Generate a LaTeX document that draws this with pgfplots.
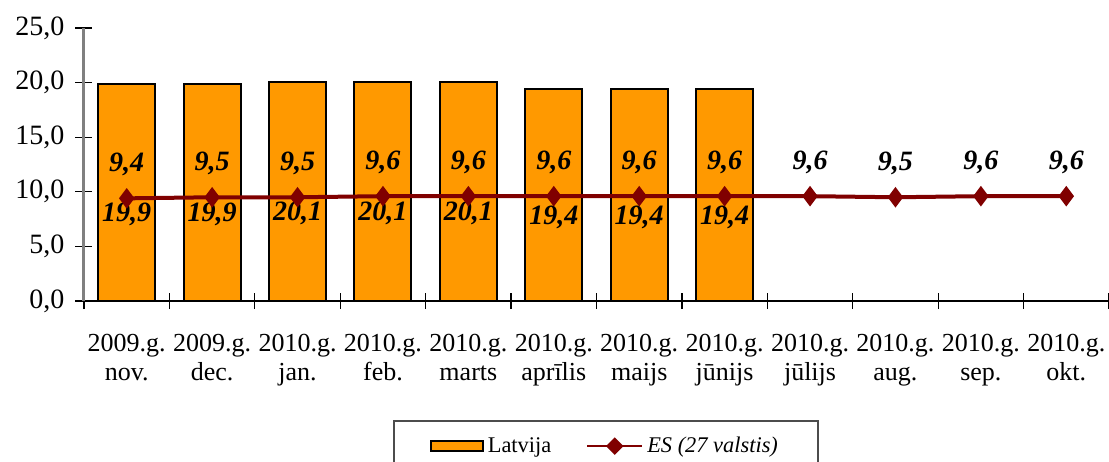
\documentclass[border=0pt]{standalone}
\usepackage{fontspec}
\setmainfont{Liberation Serif}
\usepackage{pgfplots}
\pgfplotsset{compat=1.18}
\definecolor{barorange}{RGB}{255,153,0}
\definecolor{linered}{RGB}{128,0,0}

\begin{document}
\begin{tikzpicture}
\begin{axis}[
  scale only axis, width=512.5pt, height=136.5pt,
  at={(0,0)}, anchor=south west,
  xmin=-0.5, xmax=11.5, ymin=0, ymax=25,
  clip=false,
  axis x line*=bottom, axis y line*=left,
  x axis line style={black, line width=0.6pt},
  y axis line style={gray, line width=1.5pt},
  ytick={0,5,...,25},
  xtick={0,...,11},
  xticklabels={{2009.g.\\nov.},{2009.g.\\dec.},{2010.g.\\jan.},{2010.g.\\feb.},
    {2010.g.\\marts},{2010.g.\\aprīlis},{2010.g.\\maijs},{2010.g.\\jūnijs},
    {2010.g.\\jūlijs},{2010.g.\\aug.},{2010.g.\\sep.},{2010.g.\\okt.}},
  minor xtick={-0.5,0.5,...,11.5},
  major x tick style={draw=none},
  tick align=center, major tick length=8.5pt, minor tick length=8pt,
  tick style={black, line width=0.6pt},
  yticklabel style={font=\fontsize{14}{16}\selectfont, xshift=-2pt},
  xticklabel style={font=\fontsize{13}{14.5}\selectfont, align=center, yshift=-9pt},
  /pgf/number format/use comma,
  /pgf/number format/fixed,
  /pgf/number format/fixed zerofill,
  /pgf/number format/precision=1,
  /pgf/number format/assume math mode=true,
  legend columns=2,
  legend style={at={(0.3015,-0.436)}, anchor=north west,
    draw=gray!60!black, line width=0.8pt,
    inner xsep=18pt, inner ysep=6pt,
    font=\fontsize{11.2}{13}\selectfont,
    /tikz/every even column/.append style={column sep=15.5pt}},
]
\addplot[ybar, bar width=28.5pt, fill=barorange, draw=black, line width=1pt,
  point meta=y, nodes near coords,
  visualization depends on={y \as \rawy},
  every node near coord/.append style={anchor=center, text=black,
    font=\fontsize{14}{16}\selectfont\bfseries\itshape,
    yshift={-2.73pt*\rawy-11pt}},
  legend image code/.code={\draw[fill=barorange, draw=black, line width=1pt]
    (0pt,-2.5pt) rectangle (26pt,2.5pt);}]
coordinates {(0,19.9) (1,19.9) (2,20.1) (3,20.1) (4,20.1) (5,19.4) (6,19.4) (7,19.4)};
\addlegendentry{Latvija}
\addplot[linered, line width=2pt, mark=diamond*, mark size=3.5pt,
  mark options={solid, fill=linered},
  point meta=y, nodes near coords,
  every node near coord/.append style={anchor=center, text=black, yshift=17pt,
    font=\fontsize{14}{16}\selectfont\bfseries\itshape},
  legend image code/.code={\draw[linered, line width=1pt] (0pt,0pt) -- (27.5pt,0pt);
    \fill[linered] (10.75pt,0pt) -- (13.75pt,3pt) -- (16.75pt,0pt) -- (13.75pt,-3pt) -- cycle;}]
coordinates {(0,9.4) (1,9.5) (2,9.5) (3,9.6) (4,9.6) (5,9.6) (6,9.6) (7,9.6)
  (8,9.6) (9,9.5) (10,9.6) (11,9.6)};
\addlegendentry{\textit{ES (27 valstis)}}
\end{axis}
\pgfresetboundingbox
\path[use as bounding box] (-42pt,-80pt) rectangle (512.5pt,150.5pt);
\end{tikzpicture}
\end{document}
